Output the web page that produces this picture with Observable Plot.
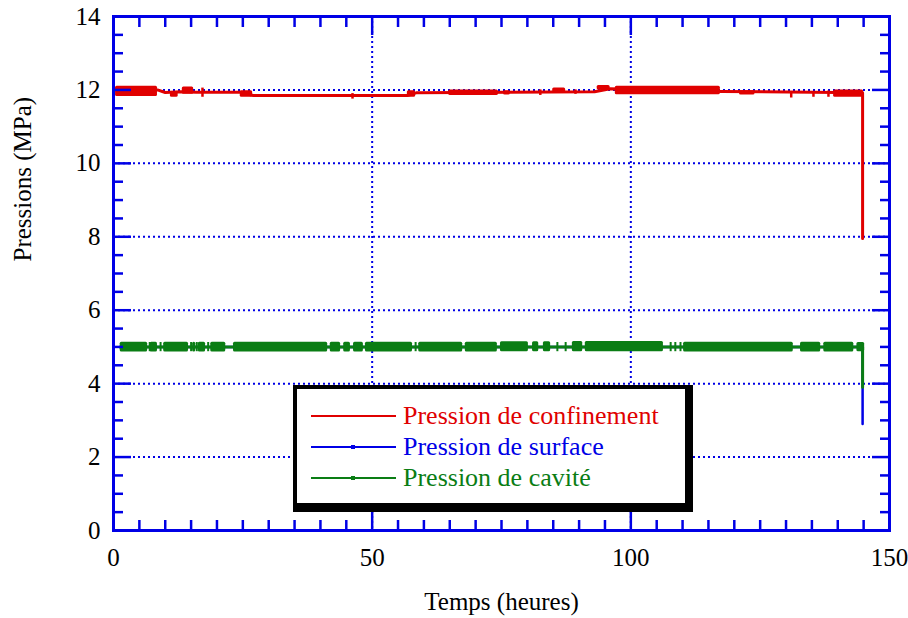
<!DOCTYPE html>
<html>
<head>
<meta charset="utf-8">
<script src="https://cdn.jsdelivr.net/npm/d3@7"></script>
<script src="https://cdn.jsdelivr.net/npm/@observablehq/plot@0.6"></script>
<style>
  body { margin: 0; background: #fff; }
  #wrap { position: relative; width: 908px; height: 618px; font-family: "Liberation Serif", "Tinos", "Times New Roman", Times, "DejaVu Serif", "Noto Serif", serif; }
  #legend { position: absolute; left: 293px; top: 385px; width: 400px; height: 127px; box-sizing: border-box;
            background: #fff; border-style: solid; border-color: #000; border-width: 4px 8px 9px 4px; }
  .item { position: absolute; left: 14px; height: 30px; display: flex; align-items: center; font-size: 26px; white-space: nowrap; }
  .sw { position: relative; width: 85px; height: 2px; margin-right: 7px; }
  .dot { position: absolute; left: 40px; top: -1px; width: 4px; height: 4px; }
  svg text { font-family: "Liberation Serif", "Tinos", "Times New Roman", Times, "DejaVu Serif", "Noto Serif", serif; }
</style>
</head>
<body>
<div id="wrap">
  <div id="chart"></div>
  <div id="legend"></div>
</div>
<script>
// ---- Data ----
const xMajor = [0, 50, 100, 150];
const yMajor = [0, 2, 4, 6, 8, 10, 12, 14];
const seriesNames = ["Pression de confinement", "Pression de surface", "Pression de cavité"];
const seriesColors = ["#e00000", "#0000e6", "#0a7d14"];

// Pression de confinement: base trace (time h, MPa)
const redT = [0.4, 8.5, 10, 13, 16, 24.5, 27, 56.8, 58.5, 93, 96, 117.5, 144.8, 144.8];
const redV = [12.0, 12.0, 11.93, 11.95, 11.94, 11.94, 11.85, 11.85, 11.92, 11.95, 12.03, 11.96, 11.92, 7.95];
// noisy stretches: [t start, t end, low, high]
const redBlocks = [
  [0.4, 8.5, 11.82, 12.1], [11, 12.5, 11.8, 11.95], [13.3, 15.5, 11.88, 12.08],
  [24.5, 26.9, 11.8, 11.98], [56.8, 58.4, 11.8, 11.98], [64.8, 74.4, 11.85, 12.0],
  [75.4, 76.7, 11.86, 11.98], [84.9, 87.4, 11.9, 12.05], [93.5, 96, 12.0, 12.12],
  [97, 117.3, 11.87, 12.1], [121, 124, 11.86, 11.98], [139.2, 145, 11.8, 12.0]
];
// isolated spikes: [t, low, high]
const redSpikes = [
  [17.2, 11.8, 12.05], [46.2, 11.75, 11.9], [82.5, 11.85, 12.0], [89.3, 11.88, 12.0],
  [131, 11.78, 11.95], [135.3, 11.8, 11.95], [138.2, 11.8, 11.97]
];

// Pression de surface
const blueT = [1.3, 144.8, 144.8];
const blueV = [5.0, 5.0, 2.9];

// Pression de cavité
const greenT = [1.3, 144.8, 144.8];
const greenV = [5.0, 5.0, 3.9];
const greenBlocks = [
  [1.3, 6.6, 4.86, 5.13], [7.1, 8.5, 4.86, 5.13], [9.7, 14.5, 4.86, 5.13], [15.3, 15.9, 4.86, 5.13],
  [16.4, 17.8, 4.86, 5.13], [18.8, 21.7, 4.86, 5.13], [23.2, 41.4, 4.86, 5.13], [41.9, 43.9, 4.86, 5.13],
  [44.5, 45.8, 4.86, 5.13], [46.4, 48.3, 4.86, 5.13], [48.7, 57.8, 4.86, 5.13], [59, 67.5, 4.86, 5.13],
  [68, 74.2, 4.86, 5.13], [74.8, 80.2, 4.87, 5.14], [81, 82.2, 4.87, 5.14], [83.1, 84.5, 4.87, 5.14],
  [88.7, 90.7, 4.87, 5.15], [91.2, 106.3, 4.87, 5.15], [110.2, 131.4, 4.86, 5.13], [132.8, 136.7, 4.86, 5.13],
  [137.3, 143.1, 4.86, 5.13], [143.7, 145.2, 4.87, 5.12]
];
const greenSpikes = [
  [7.0, 4.87, 5.12], [9.1, 4.87, 5.12], [15.0, 4.87, 5.12], [16.1, 4.87, 5.12], [18.3, 4.87, 5.12],
  [58.4, 4.87, 5.12], [85.8, 4.87, 5.12], [87.4, 4.87, 5.12], [107.7, 4.87, 5.12], [108.6, 4.87, 5.12], [109.6, 4.87, 5.12]
];

const xTitle = "Temps (heures)";
const yTitle = "Pressions (MPa)";

// ---- Build ----
const toPts = (T, V) => T.map((t, i) => ({t, v: V[i]}));
const frameBlue = "#0000e6";
const xMinor = d3.range(5, 150, 5).filter(v => !xMajor.includes(v));
const yMinor = d3.range(0.5, 14, 0.5).filter(v => !yMajor.includes(v));
const font = "'Liberation Serif', 'Tinos', 'Times New Roman', Times, 'DejaVu Serif', serif";

function tickAxis(dim, anchor, values, size) {
  const f = dim === "x" ? Plot.axisX : Plot.axisY;
  return f(values, {anchor, tickSize: -size, fill: "none", label: null, stroke: frameBlue, strokeWidth: 2.5, tickFormat: () => ""});
}

const chart = Plot.plot({
  width: 908, height: 618,
  marginLeft: 113, marginRight: 19, marginTop: 16, marginBottom: 88,
  style: {fontFamily: font, background: "white", color: "black"},
  x: {domain: [0, 150]},
  y: {domain: [0, 14]},
  marks: [
    Plot.gridX(xMajor.filter(v => v > 0 && v < 150), {stroke: frameBlue, strokeOpacity: 1, strokeWidth: 2, strokeDasharray: "2,3"}),
    Plot.gridY(yMajor.filter(v => v > 0 && v < 14), {stroke: frameBlue, strokeOpacity: 1, strokeWidth: 2, strokeDasharray: "2,3"}),
    Plot.line(toPts(blueT, blueV), {x: "t", y: "v", stroke: seriesColors[1], strokeWidth: 2.5}),
    Plot.line(toPts(greenT, greenV), {x: "t", y: "v", stroke: seriesColors[2], strokeWidth: 3}),
    Plot.rect(greenBlocks, {x1: d => d[0], x2: d => d[1], y1: d => d[2], y2: d => d[3], fill: seriesColors[2], rx: 1.5}),
    Plot.ruleX(greenSpikes, {x: d => d[0], y1: d => d[1], y2: d => d[2], stroke: seriesColors[2], strokeWidth: 2}),
    Plot.line(toPts(redT, redV), {x: "t", y: "v", stroke: seriesColors[0], strokeWidth: 3}),
    Plot.rect(redBlocks, {x1: d => d[0], x2: d => d[1], y1: d => d[2], y2: d => d[3], fill: seriesColors[0], rx: 1.5}),
    Plot.ruleX(redSpikes, {x: d => d[0], y1: d => d[1], y2: d => d[2], stroke: seriesColors[0], strokeWidth: 2.5}),
    Plot.frame({stroke: frameBlue, strokeWidth: 3}),
    tickAxis("x", "bottom", xMinor, 10), tickAxis("x", "top", xMinor, 10),
    tickAxis("y", "left", yMinor, 10), tickAxis("y", "right", yMinor, 10),
    tickAxis("x", "bottom", xMajor, 18), tickAxis("x", "top", xMajor, 18),
    tickAxis("y", "left", yMajor, 18), tickAxis("y", "right", yMajor, 18),
    Plot.axisX(xMajor, {anchor: "bottom", tickSize: 0, tickPadding: 18, fontSize: 25, label: null, fill: "black"}),
    Plot.axisY(yMajor, {anchor: "left", tickSize: 0, tickPadding: 13, fontSize: 25, label: null, fill: "black"}),
    Plot.text([xTitle], {frameAnchor: "bottom", dy: 71, fontSize: 25, fill: "black", lineAnchor: "middle"}),
    Plot.text([yTitle], {frameAnchor: "left", dx: -91, dy: -12, rotate: -90, fontSize: 25, fill: "black", lineAnchor: "middle"})
  ]
});
document.getElementById("chart").appendChild(chart);

// Legend
const legend = document.getElementById("legend");
seriesNames.forEach((name, i) => {
  const item = document.createElement("div");
  item.className = "item";
  item.style.top = (12 + i * 31) + "px";
  item.style.color = seriesColors[i];
  const sw = document.createElement("div");
  sw.className = "sw";
  sw.style.background = seriesColors[i];
  if (i > 0) {
    const dot = document.createElement("div");
    dot.className = "dot";
    dot.style.background = seriesColors[i];
    sw.appendChild(dot);
  }
  item.appendChild(sw);
  const label = document.createElement("span");
  label.textContent = name;
  item.appendChild(label);
  legend.appendChild(item);
});
</script>
</body>
</html>
